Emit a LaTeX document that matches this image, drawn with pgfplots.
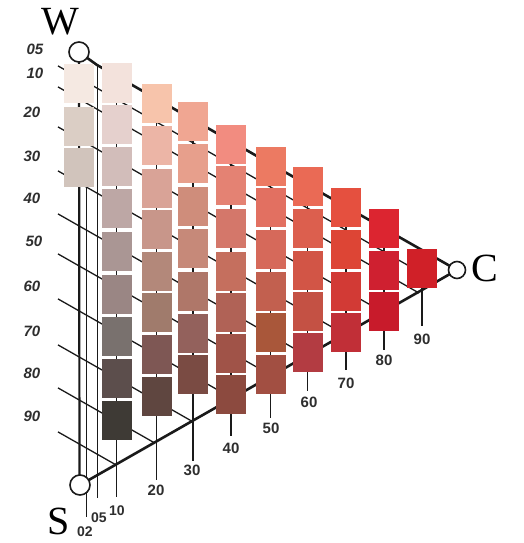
\documentclass[border=0pt]{standalone}
\usepackage{pgfplots}
\pgfplotsset{compat=1.18}
\usepackage{fontspec}
\setmainfont{Liberation Serif}
\newfontfamily\labfont{Liberation Sans}
\pgfdeclareplotmark{tile}{\pgfpathrectangle{\pgfpoint{-15pt}{-19.5pt}}{\pgfpoint{30pt}{39pt}}\pgfusepath{fill}}
\definecolor{labc}{HTML}{2E2E2E}
\definecolor{linec}{HTML}{1A1A1A}
% one colour sample: centre x, centre y (pixels, y downward), R, G, B
\newcommand{\tile}[5]{\addplot[only marks, mark=tile, draw=none, fill={rgb,255:red,#3;green,#4;blue,#5}] coordinates {(#1,#2)};}

\begin{document}
\begin{tikzpicture}
\begin{axis}[
  scale only axis, width=524pt, height=543pt,
  xmin=0, xmax=524, ymin=0, ymax=543, y dir=reverse,
  hide axis, clip=false,
]
\addplot[draw=none, mark=none] coordinates {(0,0) (524,543)};

% lines of constant blackness (05 ... 90)
\addplot[color=linec, line width=1.3pt, mark=none] coordinates {(58,65.9) (437.5,282.2)};
\addplot[color=linec, line width=1.3pt, mark=none] coordinates {(58,86.9) (419.0,293.0)};
\addplot[color=linec, line width=1.3pt, mark=none] coordinates {(58,126.9) (383.9,312.6)};
\addplot[color=linec, line width=1.3pt, mark=none] coordinates {(58,170.9) (345.2,334.6)};
\addplot[color=linec, line width=1.3pt, mark=none] coordinates {(58,213.9) (307.4,356.0)};
\addplot[color=linec, line width=1.3pt, mark=none] coordinates {(58,253.9) (272.2,375.9)};
\addplot[color=linec, line width=1.3pt, mark=none] coordinates {(58,298.9) (232.6,398.4)};
\addplot[color=linec, line width=1.3pt, mark=none] coordinates {(58,344.9) (192.1,421.3)};
\addplot[color=linec, line width=1.3pt, mark=none] coordinates {(58,387.9) (154.4,442.8)};
\addplot[color=linec, line width=1.3pt, mark=none] coordinates {(58,431.9) (115.7,464.7)};

% lines of constant chromaticness, with their ticks
\addplot[color=linec, line width=1.3pt, mark=none] coordinates {(116.5,75.8) (116.5,497)};
\addplot[color=linec, line width=1.3pt, mark=none] coordinates {(156.5,98.4) (156.5,480)};
\addplot[color=linec, line width=1.3pt, mark=none] coordinates {(193,119.3) (193,461)};
\addplot[color=linec, line width=1.3pt, mark=none] coordinates {(231,140.8) (231,436)};
\addplot[color=linec, line width=1.3pt, mark=none] coordinates {(270.5,163.2) (270.5,418)};
\addplot[color=linec, line width=1.3pt, mark=none] coordinates {(307.5,184.1) (307.5,391)};
\addplot[color=linec, line width=1.3pt, mark=none] coordinates {(346,205.9) (346,370)};
\addplot[color=linec, line width=1.3pt, mark=none] coordinates {(384,227.4) (384,350)};
\addplot[color=linec, line width=1.3pt, mark=none] coordinates {(422,249) (422,326)};
\addplot[color=linec, line width=1pt, mark=none] coordinates {(86,187) (86,517)};
\addplot[color=linec, line width=1pt, mark=none] coordinates {(97,65) (97,498)};

% triangle edges
\addplot[color=linec, line width=2.2pt, mark=none] coordinates {(79,52) (79.5,485)};
\addplot[color=linec, line width=2.6pt, mark=none] coordinates {(79,52) (97,65) (457,270)};
\addplot[color=linec, line width=2.6pt, mark=none] coordinates {(80,485) (457,270)};

% colour samples
\tile{79}{83.5}{245}{233}{226}
\tile{79}{126}{219}{206}{197}
\tile{79}{167}{209}{196}{188}
\tile{116.5}{83}{243}{226}{220}
\tile{116.5}{124.5}{229}{208}{205}
\tile{116.5}{166}{210}{189}{186}
\tile{116.5}{208.5}{189}{167}{165}
\tile{116.5}{251.5}{170}{150}{148}
\tile{116.5}{294}{154}{134}{132}
\tile{116.5}{336}{121}{113}{110}
\tile{116.5}{378.5}{92}{78}{76}
\tile{116.5}{420}{62}{58}{53}
\tile{156.5}{103.5}{247}{196}{171}
\tile{156.5}{145.5}{236}{181}{166}
\tile{156.5}{188}{217}{163}{151}
\tile{156.5}{229.5}{200}{150}{138}
\tile{156.5}{271}{179}{136}{122}
\tile{156.5}{312.5}{160}{123}{108}
\tile{156.5}{354}{126}{87}{84}
\tile{156.5}{396}{95}{70}{64}
\tile{193}{121.5}{240}{166}{146}
\tile{193}{163.5}{231}{159}{140}
\tile{193}{206}{207}{141}{123}
\tile{193}{248.5}{198}{137}{121}
\tile{193}{291}{175}{119}{105}
\tile{193}{333.5}{147}{97}{92}
\tile{193}{374}{122}{75}{67}
\tile{231}{144.5}{242}{140}{128}
\tile{231}{185.5}{228}{130}{115}
\tile{231}{228}{212}{119}{106}
\tile{231}{271}{197}{111}{94}
\tile{231}{312.5}{176}{98}{86}
\tile{231}{353.5}{160}{83}{72}
\tile{231}{394.5}{140}{74}{63}
\tile{270.5}{166}{236}{122}{98}
\tile{270.5}{207}{226}{112}{97}
\tile{270.5}{249}{214}{105}{90}
\tile{270.5}{291}{194}{96}{79}
\tile{270.5}{332}{169}{87}{58}
\tile{270.5}{374}{162}{79}{66}
\tile{307.5}{186.5}{234}{106}{85}
\tile{307.5}{228}{220}{95}{78}
\tile{307.5}{270}{210}{85}{70}
\tile{307.5}{311.5}{196}{81}{68}
\tile{307.5}{352.5}{179}{60}{66}
\tile{346}{207}{229}{80}{63}
\tile{346}{249}{221}{69}{53}
\tile{346}{291}{210}{58}{53}
\tile{346}{332}{193}{47}{55}
\tile{384}{228}{220}{37}{48}
\tile{384}{270}{207}{32}{48}
\tile{384}{311.5}{200}{27}{43}
\tile{422}{268.5}{208}{32}{40}

% corner circles
\addplot[only marks, mark=*, mark size=10pt, mark options={fill=white, draw=linec, line width=1.6pt}]
  coordinates {(79,52) (80,485)};
\addplot[only marks, mark=*, mark size=8.5pt, mark options={fill=white, draw=linec, line width=1.6pt}]
  coordinates {(457,270)};

% corner letters
\node[font=\fontsize{40}{40}\selectfont, text=black] at (axis cs:60,22) {W};
\node[font=\fontsize{40}{40}\selectfont, text=black] at (axis cs:59,521) {S};
\node[font=\fontsize{40}{40}\selectfont, text=black] at (axis cs:485,268) {C};

% blackness labels
\node[font=\labfont\bfseries\itshape\fontsize{15}{15}\selectfont, text=labc] at (axis cs:35,49) {05};
\node[font=\labfont\bfseries\itshape\fontsize{15}{15}\selectfont, text=labc] at (axis cs:35,73) {10};
\node[font=\labfont\bfseries\itshape\fontsize{15}{15}\selectfont, text=labc] at (axis cs:32,112) {20};
\node[font=\labfont\bfseries\itshape\fontsize{15}{15}\selectfont, text=labc] at (axis cs:32,156) {30};
\node[font=\labfont\bfseries\itshape\fontsize{15}{15}\selectfont, text=labc] at (axis cs:32,198) {40};
\node[font=\labfont\bfseries\itshape\fontsize{15}{15}\selectfont, text=labc] at (axis cs:34,241) {50};
\node[font=\labfont\bfseries\itshape\fontsize{15}{15}\selectfont, text=labc] at (axis cs:32,286) {60};
\node[font=\labfont\bfseries\itshape\fontsize{15}{15}\selectfont, text=labc] at (axis cs:32,331) {70};
\node[font=\labfont\bfseries\itshape\fontsize{15}{15}\selectfont, text=labc] at (axis cs:32,373) {80};
\node[font=\labfont\bfseries\itshape\fontsize{15}{15}\selectfont, text=labc] at (axis cs:32,416) {90};

% chromaticness labels
\node[font=\labfont\bfseries\fontsize{14}{14}\selectfont, text=labc] at (axis cs:85,532) {02};
\node[font=\labfont\bfseries\fontsize{14}{14}\selectfont, text=labc] at (axis cs:99,518) {05};
\node[font=\labfont\bfseries\fontsize{14}{14}\selectfont, text=labc] at (axis cs:117,511) {10};
\node[font=\labfont\bfseries\fontsize{15}{15}\selectfont, text=labc] at (axis cs:156,490) {20};
\node[font=\labfont\bfseries\fontsize{15}{15}\selectfont, text=labc] at (axis cs:192,470) {30};
\node[font=\labfont\bfseries\fontsize{15}{15}\selectfont, text=labc] at (axis cs:231,448) {40};
\node[font=\labfont\bfseries\fontsize{15}{15}\selectfont, text=labc] at (axis cs:271,428) {50};
\node[font=\labfont\bfseries\fontsize{15}{15}\selectfont, text=labc] at (axis cs:309,402) {60};
\node[font=\labfont\bfseries\fontsize{15}{15}\selectfont, text=labc] at (axis cs:346,383) {70};
\node[font=\labfont\bfseries\fontsize{15}{15}\selectfont, text=labc] at (axis cs:384,360) {80};
\node[font=\labfont\bfseries\fontsize{15}{15}\selectfont, text=labc] at (axis cs:422,339) {90};
\end{axis}
\end{tikzpicture}
\end{document}
